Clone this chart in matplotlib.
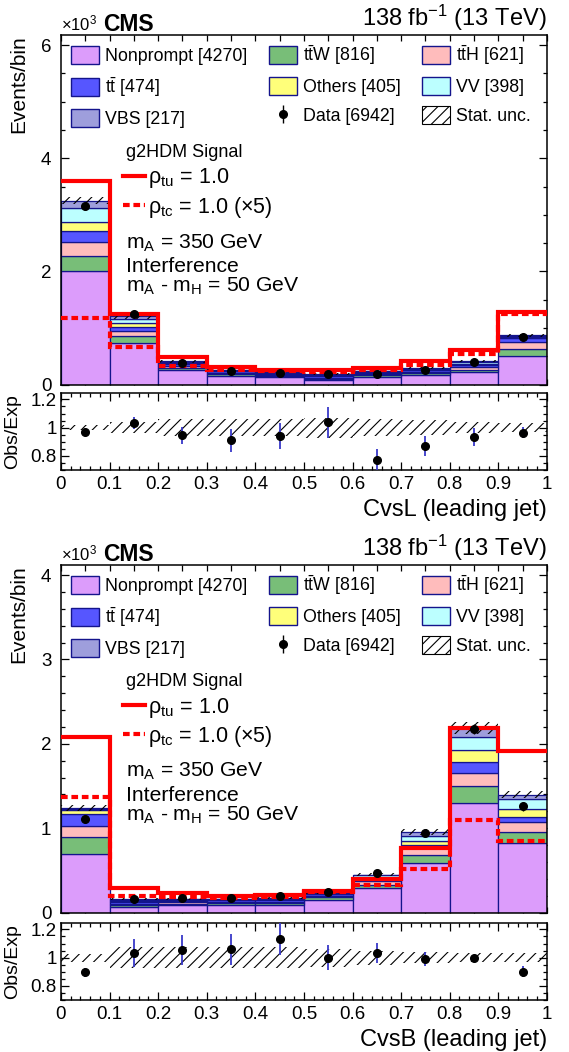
import numpy as np
import matplotlib
matplotlib.use('Agg')
import matplotlib.pyplot as plt
from matplotlib.patches import Patch
from matplotlib.ticker import MultipleLocator, FuncFormatter

plt.rcParams['font.family'] = ['Liberation Sans', 'DejaVu Sans']
plt.rcParams['mathtext.fontset'] = 'custom'
plt.rcParams['mathtext.rm'] = 'Liberation Sans'
plt.rcParams['mathtext.it'] = 'Liberation Sans:italic'
plt.rcParams['mathtext.bf'] = 'Liberation Sans:bold'
plt.rcParams['hatch.linewidth'] = 0.8
plt.rcParams['hatch.color'] = 'black'

# bins of the discriminant
edges = [0.0, 0.1, 0.2, 0.3, 0.4, 0.5, 0.6, 0.7, 0.8, 0.9, 1.0]

# backgrounds, bottom to top of the stack
procs = ['Nonprompt', 'ttW', 'ttH', 'tt', 'Others', 'VV', 'VBS']
proc_labels = ['Nonprompt [4270]', r'$\mathrm{t\bar{t}W}$ [816]', r'$\mathrm{t\bar{t}H}$ [621]',
               r'$\mathrm{t\bar{t}}$ [474]', 'Others [405]', 'VV [398]', 'VBS [217]']
proc_colors = ['#dc9cfb', '#78be78', '#ffbcbc', '#5656ff', '#ffff7a', '#bcffff', '#9e9edc']

# CvsL (leading jet), values in 10^3 events
cvsl_nonprompt = [2.00, 0.73, 0.25, 0.155, 0.13, 0.085, 0.14, 0.17, 0.215, 0.50]
cvsl_ttw = [0.28, 0.12, 0.04, 0.025, 0.02, 0.02, 0.025, 0.03, 0.05, 0.12]
cvsl_tth = [0.24, 0.09, 0.03, 0.02, 0.015, 0.015, 0.02, 0.025, 0.04, 0.13]
cvsl_tt = [0.19, 0.07, 0.04, 0.03, 0.025, 0.025, 0.025, 0.025, 0.04, 0.07]
cvsl_others = [0.16, 0.07, 0.02, 0.012, 0.01, 0.015, 0.012, 0.015, 0.025, 0.025]
cvsl_vv = [0.26, 0.07, 0.02, 0.013, 0.008, 0.015, 0.013, 0.015, 0.03, 0.015]
cvsl_vbs = [0.12, 0.06, 0.01, 0.01, 0.007, 0.01, 0.01, 0.01, 0.02, 0.01]
cvsl_data = [3.15, 1.25, 0.388, 0.241, 0.202, 0.192, 0.189, 0.252, 0.392, 0.838]
cvsl_ratio_err = [0.02, 0.04, 0.06, 0.08, 0.09, 0.11, 0.075, 0.07, 0.065, 0.04]
cvsl_stat = [0.02, 0.04, 0.06, 0.06, 0.06, 0.07, 0.06, 0.053, 0.041, 0.033]
cvsl_sig_tu = [3.59, 1.25, 0.49, 0.31, 0.26, 0.25, 0.30, 0.42, 0.61, 1.29]
cvsl_sig_tc = [1.18, 0.66, 0.33, 0.26, 0.24, 0.22, 0.26, 0.35, 0.54, 1.25]

# CvsB (leading jet)
cvsb_nonprompt = [0.69, 0.07, 0.085, 0.09, 0.085, 0.15, 0.29, 0.59, 1.295, 0.83]
cvsb_ttw = [0.20, 0.02, 0.02, 0.02, 0.025, 0.03, 0.04, 0.09, 0.205, 0.13]
cvsb_tth = [0.14, 0.015, 0.015, 0.015, 0.02, 0.02, 0.04, 0.08, 0.15, 0.11]
cvsb_tt = [0.135, 0.025, 0.02, 0.02, 0.02, 0.015, 0.025, 0.04, 0.14, 0.06]
cvsb_others = [0.05, 0.01, 0.008, 0.008, 0.01, 0.01, 0.02, 0.045, 0.14, 0.095]
cvsb_vv = [0.015, 0.008, 0.007, 0.007, 0.008, 0.008, 0.025, 0.065, 0.15, 0.115]
cvsb_vbs = [0.01, 0.007, 0.005, 0.005, 0.007, 0.007, 0.01, 0.04, 0.105, 0.055]
cvsb_data = [1.11, 0.160, 0.169, 0.175, 0.198, 0.24, 0.466, 0.939, 2.174, 1.258]
cvsb_ratio_err = [0.035, 0.10, 0.105, 0.11, 0.112, 0.087, 0.07, 0.05, 0.026, 0.038]
cvsb_stat = [0.028, 0.072, 0.072, 0.072, 0.072, 0.064, 0.05, 0.038, 0.033, 0.03]
cvsb_sig_tu = [2.085, 0.29, 0.23, 0.20, 0.21, 0.26, 0.40, 0.77, 2.19, 1.915]
cvsb_sig_tc = [1.37, 0.20, 0.18, 0.17, 0.18, 0.24, 0.33, 0.52, 1.10, 0.85]

EDGE = '#14148c'
ERRC = '#3838c8'
gfmt = FuncFormatter(lambda v, p: '%g' % round(v, 3))


def style_axis(ax):
    ax.tick_params(which='both', direction='in', top=True, right=True, width=0.9)
    ax.tick_params(which='major', length=6, labelsize=13.5)
    ax.tick_params(which='minor', length=3)
    for s in ax.spines.values():
        s.set_linewidth(1.1)


def draw(ax, rax, layers, data, ratio_err, stat, sig_tu, sig_tc, ymax, ymajor, yminor, xlabel):
    x = np.array(edges)
    centers = 0.5 * (x[:-1] + x[1:])
    width = np.diff(x)
    bottom = np.zeros(len(centers))
    for vals, col in zip(layers, proc_colors):
        ax.bar(x[:-1], vals, width=width, bottom=bottom, align='edge', color=col,
               edgecolor=EDGE, linewidth=0.9, zorder=2)
        bottom = bottom + np.array(vals)
    total = bottom
    stat = np.array(stat)
    ax.bar(x[:-1], 2 * total * stat, width=width, bottom=total * (1 - stat), align='edge',
           facecolor='none', edgecolor='black', hatch='///', linewidth=0, zorder=3)
    l_tu = ax.stairs(sig_tu, x, baseline=None, color='#ff0000', linewidth=3, zorder=4)
    l_tc = ax.stairs(sig_tc, x, baseline=None, color='#ff0000', linewidth=3,
                     linestyle=(0, (1.6, 0.9)), zorder=4)
    data = np.array(data)
    rerr = np.array(ratio_err)
    eb = ax.errorbar(centers, data, yerr=rerr * total, fmt='o', color='black', ms=5.5,
                     elinewidth=1, capsize=0, zorder=5)

    ax.set_xlim(0, 1)
    ax.set_ylim(0, ymax)
    ax.yaxis.set_major_locator(MultipleLocator(ymajor))
    ax.yaxis.set_minor_locator(MultipleLocator(yminor))
    ax.xaxis.set_major_locator(MultipleLocator(0.1))
    ax.xaxis.set_minor_locator(MultipleLocator(0.05))
    ax.yaxis.set_major_formatter(gfmt)
    style_axis(ax)
    ax.tick_params(axis='x', which='both', length=4, labelbottom=False)
    ax.tick_params(axis='y', which='major', pad=7)
    ax.set_ylabel('Events/bin', fontsize=15, loc='top')
    ax.yaxis.set_label_coords(-0.068, 1.0)

    # background legend, filled row by row
    patches = [Patch(facecolor=c, edgecolor=EDGE, linewidth=1, label=l)
               for c, l in zip(proc_colors, proc_labels)]
    stat_patch = Patch(facecolor='white', edgecolor='black', hatch='///', linewidth=0.8)
    handles = [patches[0], patches[3], patches[6], patches[1], patches[4], eb,
               patches[2], patches[5], stat_patch]
    labels = [proc_labels[0], proc_labels[3], proc_labels[6], proc_labels[1], proc_labels[4],
              'Data [6942]', proc_labels[2], proc_labels[5], 'Stat. unc.']
    leg = ax.legend(handles, labels, ncol=3, loc='upper left', bbox_to_anchor=(0.02, 0.975),
                    frameon=False, fontsize=12.8, handlelength=1.57, handleheight=1.18,
                    handletextpad=0.34, columnspacing=1.22, labelspacing=0.57,
                    borderpad=0, borderaxespad=0)
    ax.add_artist(leg)

    ax.text(0.134, 0.652, 'g2HDM Signal', transform=ax.transAxes, fontsize=13, va='baseline')
    ax.legend([l_tu, l_tc], [r'ρ$_{\mathrm{tu}}$ = 1.0', r'ρ$_{\mathrm{tc}}$ = 1.0 (×5)'],
              loc='upper left', bbox_to_anchor=(0.128, 0.624), frameon=False, fontsize=15.5,
              handlelength=1.0, handletextpad=0.15, labelspacing=0.2, borderpad=0,
              borderaxespad=0)
    ax.text(0.134, 0.39, r'm$_{\mathrm{A}}$ = 350 GeV', transform=ax.transAxes,
            fontsize=15.2, va='baseline')
    ax.text(0.134, 0.321, 'Interference', transform=ax.transAxes, fontsize=15.2, va='baseline')
    ax.text(0.134, 0.2655, r'm$_{\mathrm{A}}$ - m$_{\mathrm{H}}$ = 50 GeV',
            transform=ax.transAxes, fontsize=15.2, va='baseline')

    ax.text(0.0, 1.012, r'×10$^{3}$', transform=ax.transAxes, fontsize=12, va='baseline')
    ax.text(0.086, 1.012, 'CMS', transform=ax.transAxes, fontsize=16.5, fontweight='bold',
            va='baseline')
    ax.text(1.0, 1.026, r'138 fb$^{-1}$ (13 TeV)', transform=ax.transAxes, fontsize=17,
            ha='right', va='baseline')

    # ratio panel
    ratio = data / total
    rax.bar(x[:-1], 2 * stat, width=width, bottom=1 - stat, align='edge',
            facecolor='none', edgecolor='black', hatch='///', linewidth=0, zorder=2)
    rax.errorbar(centers, ratio, yerr=rerr, fmt='o', color='black', ecolor=ERRC, ms=5.5,
                 elinewidth=1.3, capsize=0, zorder=3)
    rax.set_xlim(0, 1)
    rax.set_ylim(0.7, 1.245)
    rax.yaxis.set_major_locator(MultipleLocator(0.2))
    rax.yaxis.set_minor_locator(MultipleLocator(0.05))
    rax.xaxis.set_major_locator(MultipleLocator(0.1))
    rax.xaxis.set_minor_locator(MultipleLocator(0.02))
    rax.xaxis.set_major_formatter(gfmt)
    rax.yaxis.set_major_formatter(gfmt)
    style_axis(rax)
    rax.tick_params(axis='y', which='major', pad=3)
    rax.tick_params(axis='x', which='major', pad=4)
    rax.set_ylabel('Obs/Exp', fontsize=14)
    rax.yaxis.set_label_coords(-0.083, 0.5)
    rax.set_xlabel(xlabel, fontsize=17, loc='right')
    rax.xaxis.set_label_coords(1.0, -0.38)


fig = plt.figure(figsize=(5.69, 10.52), dpi=100)
L, W = 0.1072, 0.854

ax1 = fig.add_axes([L, 0.6345, W, 0.3322])
rax1 = fig.add_axes([L, 0.5532, W, 0.0732])
draw(ax1, rax1,
     [cvsl_nonprompt, cvsl_ttw, cvsl_tth, cvsl_tt, cvsl_others, cvsl_vv, cvsl_vbs],
     cvsl_data, cvsl_ratio_err, cvsl_stat, cvsl_sig_tu, cvsl_sig_tc,
     6.18, 2, 0.5, 'CvsL (leading jet)')

ax2 = fig.add_axes([L, 0.1326, W, 0.3303])
rax2 = fig.add_axes([L, 0.0494, W, 0.0732])
draw(ax2, rax2,
     [cvsb_nonprompt, cvsb_ttw, cvsb_tth, cvsb_tt, cvsb_others, cvsb_vv, cvsb_vbs],
     cvsb_data, cvsb_ratio_err, cvsb_stat, cvsb_sig_tu, cvsb_sig_tc,
     4.12, 1, 0.2, 'CvsB (leading jet)')

fig.savefig('out.png', dpi=100)
